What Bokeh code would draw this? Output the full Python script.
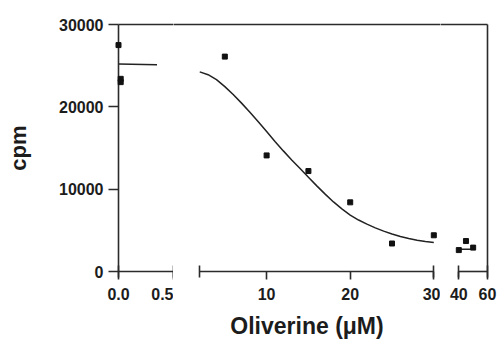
from bokeh.plotting import figure
from bokeh.layouts import row
from bokeh.models import LinearAxis, FixedTicker, PrintfTickFormatter, Range1d
from bokeh.embed import file_html
from bokeh.resources import INLINE

# ---- data ----
conc_low = [0.0, 0.02, 0.02]
cpm_low = [27500, 23400, 23000]
conc_mid = [5, 10, 15, 20, 25, 30]
cpm_mid = [26100, 14100, 12200, 8400, 3400, 4400]
conc_high = [40, 45, 50]
cpm_high = [2600, 3700, 2900]

# fitted curve
fit_low_x = [0.0, 0.35]
fit_low_y = [25200, 25100]
fit_mid_x = [2, 3, 4, 5, 6, 7, 8, 9, 10, 11, 12, 13, 14, 15, 16,
             17, 18, 19, 20, 21, 22, 23, 24, 25, 26, 27, 28, 29, 30]
fit_mid_y = [24250, 23900, 23300, 22450, 21500, 20450, 19350, 18200,
             17000, 15800, 14650, 13550, 12500, 11450, 10400, 9400,
             8450, 7600, 6850, 6250, 5750, 5300, 4900, 4550, 4250,
             4000, 3800, 3650, 3520]
fit_high_x = [40, 50]
fit_high_y = [2700, 2700]

y_ticks = [0, 10000, 20000, 30000]
x_ticks_low = [0.0, 0.5]
x_ticks_mid = [10, 20, 30]
x_ticks_high = [40, 60]
seg_low = (0.0, 0.5)
seg_mid = (2, 30)
seg_high = (40, 60)

AX = "#2b2b2b"
TXT = "#1c1c1c"
FONT = "Liberation Sans"


def style_axis(ax):
    ax.axis_line_color = AX
    ax.axis_line_width = 1.6
    ax.major_tick_line_color = AX
    ax.major_tick_line_width = 1.6
    ax.minor_tick_line_color = AX
    ax.minor_tick_line_width = 1.6
    ax.major_label_text_font = FONT
    ax.major_label_text_font_size = "16px"
    ax.major_label_text_font_style = "bold"
    ax.major_label_text_color = TXT
    ax.axis_label_text_font = FONT
    ax.axis_label_text_font_size = "22px"
    ax.axis_label_text_font_style = "bold"
    ax.axis_label_text_color = TXT


def frame_axis(ticks):
    # plain frame line (top / right), ticks hidden
    ax = LinearAxis(ticker=FixedTicker(ticks=ticks))
    style_axis(ax)
    ax.major_tick_out = 0
    ax.major_tick_in = 0
    ax.minor_tick_out = 0
    ax.minor_tick_in = 0
    ax.major_label_standoff = 0
    ax.major_label_text_font_size = "1px"
    ax.major_label_text_alpha = 0
    return ax


def make_fig(xr, fw, mbl, mbr, top_ticks):
    p = figure(x_range=xr, y_range=Range1d(0, 30000), frame_width=fw,
               frame_height=247, min_border_left=mbl, min_border_right=mbr,
               min_border_top=24, min_border_bottom=70,
               x_axis_location=None, y_axis_location=None,
               toolbar_location=None, output_backend="svg")
    p.outline_line_color = None
    p.grid.visible = False
    p.background_fill_color = "white"
    p.border_fill_color = "white"
    p.add_layout(frame_axis(top_ticks), "above")
    return p


def x_axis(ticks, bounds, fmt=None, label=None):
    ax = LinearAxis(ticker=FixedTicker(ticks=ticks, minor_ticks=list(bounds)))
    style_axis(ax)
    ax.bounds = bounds
    ax.major_tick_in = 0
    ax.major_tick_out = 8
    ax.minor_tick_in = 6
    ax.minor_tick_out = 6
    ax.major_label_standoff = 8
    if fmt:
        ax.formatter = PrintfTickFormatter(format=fmt)
    if label:
        ax.axis_label = label
        ax.axis_label_text_font_size = "23px"
        ax.axis_label_standoff = 10
    return ax


# left segment (with the y axis)
pA = make_fig(Range1d(0.0, 0.5), 55, 118, 0, x_ticks_low)
yax = LinearAxis(ticker=FixedTicker(ticks=y_ticks), axis_label="cpm")
style_axis(yax)
yax.major_tick_in = 0
yax.major_tick_out = 10
yax.major_label_standoff = 5
yax.axis_label_standoff = 25
pA.add_layout(yax, "left")
pA.add_layout(x_axis(x_ticks_low, seg_low, fmt="%.1f"), "below")
pA.line(fit_low_x, fit_low_y, line_width=1.5, color="#222222")
pA.scatter(conc_low, cpm_low, marker="square", size=5, color="#111111",
           level="overlay")

# middle segment
pB = make_fig(Range1d(-1.14, 30.8), 267, 0, 0, x_ticks_mid)
pB.add_layout(x_axis(x_ticks_mid, seg_mid, label="Oliverine (\u03bcM)"), "below")
pB.line(fit_mid_x, fit_mid_y, line_width=1.5, color="#222222")
pB.scatter(conc_mid, cpm_mid, marker="square", size=5, color="#111111")

# right segment
pC = make_fig(Range1d(27.25, 60), 47, 0, 10, x_ticks_high)
pC.add_layout(x_axis(x_ticks_high, seg_high), "below")
pC.add_layout(frame_axis(y_ticks), "right")
pC.line(fit_high_x, fit_high_y, line_width=1.5, color="#222222")
pC.scatter(conc_high, cpm_high, marker="square", size=5, color="#111111")

p = row(pA, pB, pC, spacing=0)
open("out.html", "w").write(file_html(p, INLINE))
